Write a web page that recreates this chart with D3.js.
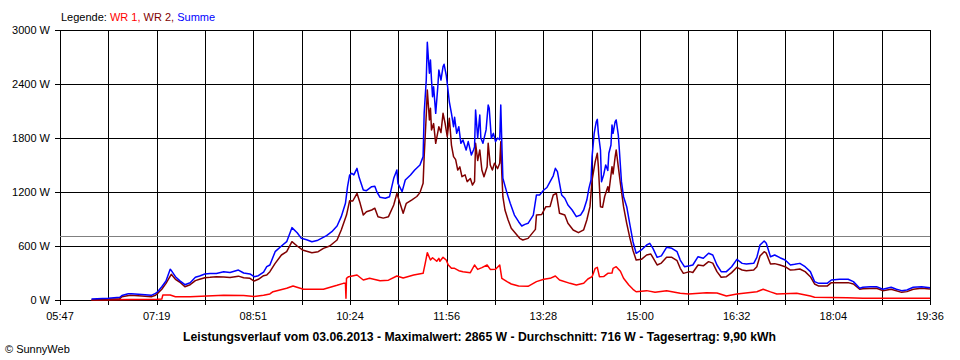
<!DOCTYPE html>
<html><head><meta charset="utf-8">
<script src="https://cdn.jsdelivr.net/npm/d3@7"></script>
<style>
html,body{margin:0;padding:0;background:#fff;}
svg{display:block;font-family:"Liberation Sans",Arial,sans-serif;}
</style></head>
<body><svg id="c" width="960" height="360"></svg>
<script>
// time in minutes since midnight, power in W
const xTickLabels = ["05:47","07:19","08:51","10:24","11:56","13:28","15:00","16:32","18:04","19:36"];
const yTicks = [0,600,1200,1800,2400,3000];
const startMin = 347, endMin = 1176;
const average = 716;
const titleText = "Leistungsverlauf vom 03.06.2013 - Maximalwert: 2865 W - Durchschnitt: 716 W - Tagesertrag: 9,90 kWh";

const wr1 = [[377,0],[414,5],[440,8],[444,10],[445,55],[452,55],[457,37],[471,37],[487,44],[503,52],[522,50],[532,40],[541,52],[547,67],
[550,92],[563,130],[569,155],[579,119],[598,119],[611,163],[617,185],[619,185],[619.5,20],[620,241],[622,259],[630,278],[636,222],[642,241],[652,215],[660,220],[668,267],[674,245],[684,278],[693,296],
[695,407],[697,526],[700,444],[702,470],[706,430],[708,463],[709,430],[712,474],[715,444],[717,389],[720,352],[723,352],[727,326],[731,315],[738,304],[742,389],[745,340],[749,360],[754,389],[757,340],[762,341],[766,389],[768,241],[773,204],[777,178],[784,155],
[793,152],[801,204],[808,230],[814,241],[819,267],[823,222],[833,185],[839,167],[846,185],[850,233],[854,259],[857,352],[859,363],[861,259],[865,260],[869,296],[873,300],[874,352],[877,370],[881,320],[884,241],[889,167],[893,119],[896,92],
[906,104],[914,85],[925,104],[938,74],[946,67],[963,81],[973,78],[982,44],[992,67],[1011,92],[1017,119],[1024,90],[1030,67],[1049,74],[1062,44],[1066,30],[1097,26],[1112,19],[1176,19]];

const wr2 = [[377,0],[393,10],[404,15],[406,37],[414,52],[425,45],[434,37],[438,52],[440,74],[444,119],[448,185],[453,285],[457,230],[461,200],[466,148],[471,170],[476,215],[480,230],[485,248],[490,252],[496,259],[503,255],[509,250],[517,265],[522,248],[528,241],[532,211],[536,230],[541,270],
[544,278],[547,315],[552,407],[558,500],[563,537],[568,648],[573,600],[578,556],[587,526],[593,537],[598,574],[604,600],[611,667],[615,778],[620,944],[623,1104],[626,1100],[630,1185],[633,1074],[636,944],[639,980],[644,1000],[647,1020],[650,926],[655,910],[660,926],[665,1056],[668,1185],[671,1074],[674,963],[677,1074],[682,1111],[687,1150],
[690,1193],[693,1296],[694,1593],[696,2056],[697,2333],[699,2000],[700,2130],[701,1889],[703,1960],[705,1741],[708,1926],[710,1860],[712,2074],[714,1960],[716,1815],[718,2019],[720,1722],[722,1593],[724,1560],[726,1444],[728,1480],[730,1370],[733,1390],[735,1315],[738,1350],[740,1278],[742,1315],[743,1741],[745,1550],[747,1667],[749,1444],[751,1370],[754,1480],[755,1741],[757,1500],[759,1444],[761,1520],[764,1460],[766,1520],[767,1759],[768,1400],[769,1148],[771,1000],[774,889],[777,796],[781,741],[785,685],[788,667],
[793,685],[800,785],[801,944],[806,950],[810,1037],[814,1040],[817,1167],[820,1185],[823,963],[828,944],[831,852],[836,778],[841,748],[846,780],[849,889],[852,1037],[854,1333],[857,1537],[859,1630],[860,1480],[862,1037],[864,1030],[866,1150],[869,1259],[870,1200],[873,1481],[874,1400],[876,1593],[877,1667],[879,1480],[881,1296],[884,1037],[887,852],[890,690],[893,550],[896,444],
[901,452],[906,500],[910,511],[912,470],[916,389],[920,410],[925,474],[930,474],[935,437],[938,352],[941,296],[947,315],[950,305],[955,389],[960,380],[965,426],[969,410],[973,315],[977,252],[982,259],[987,304],[992,363],[997,333],[1001,325],[1008,333],[1011,370],[1014,489],[1018,537],[1020,520],[1024,400],[1028,404],[1033,389],[1038,370],[1043,333],[1047,337],[1052,344],[1057,315],[1062,259],[1066,178],[1070,155],[1078,155],[1082,193],[1090,193],[1098,193],[1103,178],[1109,119],[1112,126],[1125,130],[1131,104],[1139,119],[1149,85],[1154,93],[1160,119],[1168,130],[1176,122]];

const summe = [[377,10],[393,20],[404,30],[406,50],[412,70],[415,70],[425,60],[434,52],[438,74],[440,92],[444,148],[448,211],[452,341],[453,330],[457,259],[461,215],[466,170],[471,192],[476,252],[480,267],[485,289],[490,295],[496,295],[503,315],[509,305],[517,333],[522,300],[528,289],[532,259],[536,270],[541,310],[544,370],[547,389],
[552,537],[558,600],[563,648],[568,804],[573,748],[577,685],[582,670],[587,648],[592,660],[596,685],[601,715],[606,759],[611,822],[615,926],[619,1074],[621,1259],[623,1389],[625,1407],[627,1390],[630,1463],[632,1363],[636,1222],[639,1215],[644,1259],[647,1265],[649,1200],[652,1141],[657,1130],[661,1148],[665,1352],[668,1444],[669,1296],[673,1204],[676,1333],[681,1389],[685,1444],[690,1500],[693,1593],
[694,2074],[696,2444],[697,2863],[699,2519],[700,2667],[701,2444],[702,2259],[703,2370],[705,2074],[707,2370],[708,2556],[710,2444],[712,2593],[713,2619],[715,2500],[716,2407],[718,2200],[720,2074],[722,1926],[723,2030],[725,1852],[727,1926],[729,1741],[731,1778],[734,1667],[736,1760],[739,1611],[741,1667],[742,1700],[743,2111],[745,1800],[747,2056],[748,1800],[750,1741],[753,1890],[755,2167],[756,2130],[758,1796],[760,1852],[762,1759],[764,1800],[766,1780],[767,2167],[768,1741],[769,1352],[773,1185],[776,1074],[780,944],[784,870],[787,822],
[790,840],[793,852],[798,944],[801,1167],[804,1167],[808,1222],[811,1250],[814,1315],[817,1380],[819,1463],[821,1426],[823,1296],[825,1167],[828,1130],[831,1056],[835,1000],[839,926],[843,944],[846,1000],[849,1111],[851,1241],[853,1333],[854,1593],[856,1852],[858,1981],[859,2007],[860,1852],[862,1667],[863,1315],[865,1389],[867,1500],[869,1440],[870,1630],[872,1722],[873,1944],[874,1852],[876,1981],[877,2000],[879,1833],[880,1667],[882,1315],[884,1148],[887,1037],[890,840],
[893,648],[896,519],[901,556],[906,611],[909,630],[912,574],[916,474],[920,490],[925,585],[930,574],[935,537],[938,444],[942,370],[947,381],[950,389],[955,481],[960,463],[965,519],[969,500],[973,389],[977,315],[982,315],[987,370],[992,452],[997,407],[1001,400],[1008,407],[1011,474],[1014,611],[1018,656],[1020,630],[1024,481],[1028,500],[1033,470],[1038,444],[1043,389],[1047,396],[1052,407],[1057,370],[1062,315],[1066,204],[1070,185],[1078,185],[1082,222],[1090,230],[1098,230],[1103,204],[1109,130],[1112,141],[1119,148],[1125,148],[1131,119],[1135,130],[1139,141],[1144,119],[1149,104],[1154,111],[1160,141],[1168,148],[1176,137]];

const svg = d3.select("#c");
const L = 60, R = 930, T = 30, B = 300;
const x = d3.scaleLinear().domain([startMin, endMin]).range([L, R]);
const y = d3.scaleLinear().domain([0, 3000]).range([B, T]);
const font = "'Liberation Sans', Arial, sans-serif";

// legend
const leg = svg.append("text").attr("x", 61).attr("y", 21).attr("font-size", 11).attr("font-family", font);
leg.append("tspan").attr("fill", "#000").text("Legende: ");
leg.append("tspan").attr("fill", "#ff0000").text("WR 1, ");
leg.append("tspan").attr("fill", "#800000").text("WR 2, ");
leg.append("tspan").attr("fill", "#0000ff").text("Summe");

// grid
const g = svg.append("g").attr("shape-rendering", "crispEdges");
const gridTimes = d3.range(19).map(i => startMin + i * (endMin - startMin) / 18);
g.selectAll("line.v").data(gridTimes).join("line")
  .attr("x1", d => Math.round(x(d)) + 0.5).attr("x2", d => Math.round(x(d)) + 0.5)
  .attr("y1", T).attr("y2", B + 5).attr("stroke", "#000").attr("stroke-width", 1);
g.selectAll("line.h").data(yTicks).join("line")
  .attr("x1", L - 5).attr("x2", R + 0.5)
  .attr("y1", d => Math.round(y(d)) + 0.5).attr("y2", d => Math.round(y(d)) + 0.5)
  .attr("stroke", "#000").attr("stroke-width", 1);
// average line
g.append("line").attr("x1", L).attr("x2", R)
  .attr("y1", Math.round(y(average)) + 0.5).attr("y2", Math.round(y(average)) + 0.5)
  .attr("stroke", "#808080").attr("stroke-width", 1);

// y labels
svg.selectAll("text.yl").data(yTicks).join("text")
  .attr("x", 50).attr("y", d => y(d) + 4).attr("text-anchor", "end")
  .attr("font-size", 11).attr("font-family", font).text(d => d + " W");

// x labels
const xLabelTimes = d3.range(10).map(i => startMin + i * (endMin - startMin) / 9);
svg.selectAll("text.xl").data(xLabelTimes).join("text")
  .attr("x", d => x(d)).attr("y", 320).attr("text-anchor", "middle")
  .attr("font-size", 11).attr("font-family", font).text((d, i) => xTickLabels[i]);

// series
const line = d3.line().x(d => x(d[0])).y(d => y(d[1])).curve(d3.curveLinear);
const series = [{data: wr1, color: "#ff0000"}, {data: wr2, color: "#800000"}, {data: summe, color: "#0000ff"}];
svg.append("g").selectAll("path").data(series).join("path")
  .attr("d", d => line(d.data)).attr("fill", "none")
  .attr("stroke", d => d.color).attr("stroke-width", 1.5).attr("stroke-linejoin", "round");

// title
svg.append("text").attr("x", 183).attr("y", 341).attr("font-size", 12).attr("font-weight", "bold")
  .attr("font-family", font).attr("textLength", 593).attr("lengthAdjust", "spacingAndGlyphs").text(titleText);

// copyright
svg.append("text").attr("x", 5).attr("y", 353).attr("font-size", 11).attr("font-family", font).text("\u00A9 SunnyWeb");
</script></body></html>
